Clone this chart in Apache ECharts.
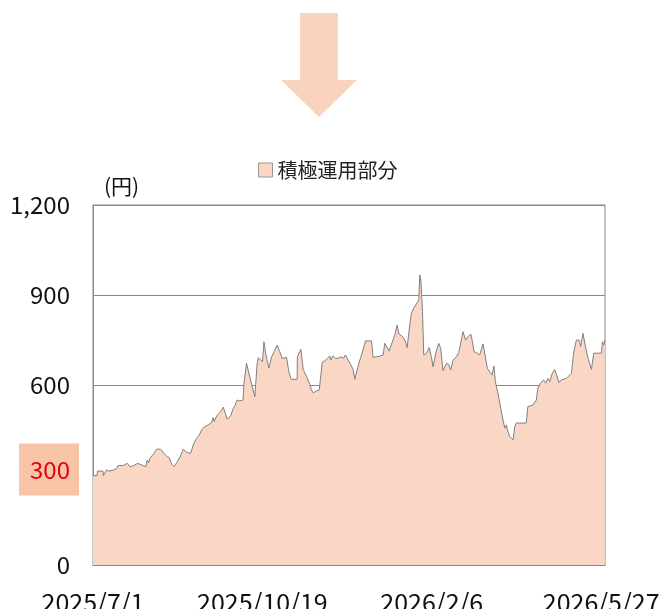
<!DOCTYPE html>
<html>
<head>
<meta charset="utf-8">
<script src="https://cdn.jsdelivr.net/npm/echarts@6/dist/echarts.min.js"></script>
<style>
  html, body { margin: 0; padding: 0; background: #fff; }
  #chart { width: 665px; height: 609px; }
</style>
</head>
<body>
<div id="chart"></div>
<script>
// 2025/7/1 からの経過日数と基準価額
const days = [0, 2.6, 2.9, 6.5, 6.8, 8.9, 10.6, 13.6, 15.4, 16.2, 19.7, 22.3, 24, 26.2, 29, 30, 32.7, 34.4, 35.2, 36.1,
  37, 39.6, 41.3, 43.9, 46.1, 48.2, 49.5, 51.1, 52.6, 54.7, 56.5, 58.6, 60.8, 63.4, 65.5, 67.3, 69, 70.5, 72, 74.8,
  77, 78, 78.7, 80.3, 82.9, 84.6, 87.2, 89.4, 91.1, 92.1, 93.6, 95.4, 97.5, 98, 99.7, 102.3, 105.1, 106.6, 107.3, 110.1,
  111, 112.3, 114.2, 116, 117.6, 119.6, 121.3, 122.8, 125.7, 127.2, 127.8, 128.7, 132.6, 132.7, 133.9, 135, 136.5, 138.7, 140.8, 141.9,
  143, 145.2, 146.9, 148.9, 150.6, 152.3, 153.8, 154.4, 155.9, 157.5, 159.2, 161, 162.5, 164, 165.7, 167.4, 168.9, 170, 171.5, 173.3,
  175.4, 177, 180.9, 181.9, 185.2, 188.4, 189.5, 192.3, 193.8, 196, 197.5, 198.6, 200.4, 202.5, 204, 205.7, 206.8, 208.4, 209.7, 210.7,
  211.6, 212.2, 212.9, 214, 214.8, 216.6, 218.3, 219.8, 220.8, 222.6, 224.5, 225.8, 227.3, 229.5, 231, 232.3, 233.8, 236, 237.5, 238.8,
  240.3, 241.9, 243.6, 245.3, 246.2, 247.5, 249, 251.1, 253.3, 254.4, 256.1, 257.6, 259.1, 260.4, 261.3, 263, 264.8, 266.3, 267.4, 268.5,
  269.1, 270.6, 272.8, 273.9, 275, 277.1, 279.9, 281.4, 282.4, 285.7, 287.9, 288.9, 290.5, 292.7, 294, 295.5, 296.6, 298.3, 299.8, 301.3,
  302.6, 304.2, 307.4, 310.7, 312.1, 313.9, 315.6, 316.7, 318.2, 319.9, 321.5, 322.6, 323.7, 325.2, 330.2, 330.8, 331.7, 332.3];
const values = [298, 298, 313, 313, 298, 317, 313, 317, 322, 331, 332, 339, 328, 331, 339, 333, 331, 328, 350, 340,
  356, 372, 386, 386, 372, 361, 358, 336, 328, 344, 360, 386, 376, 372, 406, 422, 433, 450, 459, 467,
  475, 491, 478, 497, 511, 526, 486, 498, 522, 530, 550, 547, 550, 603, 672, 617, 561, 672, 691, 678,
  744, 700, 656, 694, 711, 733, 711, 689, 692, 644, 650, 619, 619, 694, 692, 719, 652, 628, 602, 583,
  574, 580, 583, 676, 681, 689, 697, 683, 697, 689, 689, 694, 689, 700, 683, 667, 652, 619, 650, 683,
  717, 747, 747, 692, 695, 700, 739, 713, 735, 767, 800, 770, 765, 750, 725, 800, 839, 858, 867, 864,
  883, 967, 950, 844, 700, 706, 725, 692, 661, 706, 739, 722, 648, 672, 669, 650, 683, 694, 708, 739,
  778, 750, 761, 770, 750, 711, 708, 700, 737, 731, 656, 644, 633, 663, 611, 572, 522, 483, 456, 467,
  450, 428, 417, 461, 474, 473, 473, 474, 528, 533, 550, 589, 606, 617, 606, 622, 611, 639, 652, 630,
  608, 617, 622, 639, 706, 750, 750, 728, 772, 726, 689, 683, 652, 706, 706, 744, 733, 750];

const tickLabels = ['2025/7/1', '2025/10/19', '2026/2/6', '2026/5/27'];
const tickStep = 110;
const seriesName = '積極運用部分';

const fill = '#f9d7c4';
const font = '"Noto Sans CJK JP", "Noto Sans", sans-serif';

const chart = echarts.init(document.getElementById('chart'));
chart.setOption({
  animation: false,
  backgroundColor: '#fff',
  textStyle: { fontFamily: font },
  graphic: [{
    type: 'polygon',
    shape: { points: [[300, 13], [338, 13], [338, 80], [357, 80], [319, 117], [281, 80], [300, 80]] },
    style: { fill: '#f9d3bd' }
  }],
  legend: {
    top: 155,
    left: 253,
    itemWidth: 14,
    itemHeight: 14,
    itemGap: 6,
    textStyle: { fontSize: 20, color: '#222', fontFamily: font },
    data: [{
      name: seriesName,
      icon: 'rect',
      itemStyle: { color: fill, borderColor: '#999', borderWidth: 1 }
    }]
  },
  grid: {
    left: 93, right: 60, top: 205, bottom: 44,
    outerBoundsMode: 'none',
    containLabel: false,
    show: true, borderColor: '#888', borderWidth: 1
  },
  xAxis: {
    type: 'value',
    min: 0,
    max: 332.5,
    interval: tickStep,
    axisLine: { lineStyle: { color: '#888' } },
    axisTick: { inside: true, length: 8, lineStyle: { color: '#888' } },
    splitLine: { show: false },
    axisLabel: {
      showMaxLabel: false,
      margin: 25,
      fontSize: 25,
      color: '#111',
      fontFamily: font,
      formatter: v => tickLabels[Math.round(v / tickStep)] || ''
    }
  },
  yAxis: {
    type: 'value',
    min: 0,
    max: 1200,
    interval: 300,
    name: '(円)',
    nameLocation: 'end',
    nameGap: 8,
    nameTextStyle: { fontSize: 21, color: '#111', align: 'left', padding: [0, 0, 0, 11], fontFamily: font },
    axisLine: { show: true, lineStyle: { color: '#888' } },
    axisTick: { show: false },
    splitLine: { lineStyle: { color: '#888' } },
    axisLabel: {
      margin: 14,
      formatter: v => v === 300 ? '{h|300}\n{s|}' : '{n|' + v.toLocaleString('en-US') + '}',
      rich: {
        n: { fontSize: 24, color: '#111', padding: [0, 9, 0, 6], fontFamily: font },
        h: { fontSize: 24, color: '#e60012', backgroundColor: '#f7c4a7', padding: [14, 9, 14, 11], fontFamily: font },
        s: { height: 11, fontSize: 1 }
      }
    }
  },
  series: [{
    name: seriesName,
    type: 'line',
    data: days.map((d, i) => [d, values[i]]),
    showSymbol: false,
    itemStyle: { color: fill },
    lineStyle: { color: '#808080', width: 1 },
    areaStyle: { color: fill, opacity: 1 }
  }]
});
</script>
</body>
</html>
